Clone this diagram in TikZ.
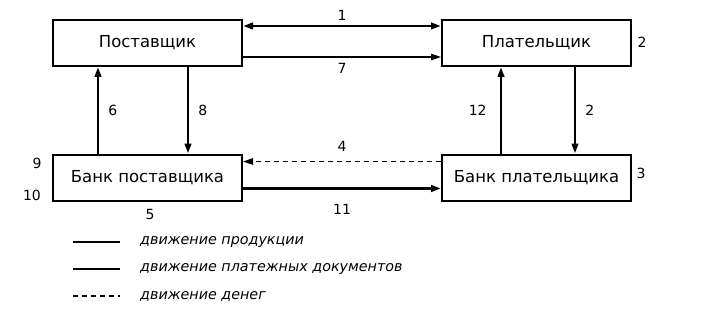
\documentclass[tikz,border=0pt]{standalone}
\usepackage{fontspec}
\setmainfont{DejaVu Sans}
\usepackage{tikz}
\usetikzlibrary{arrows.meta,positioning}
\tikzset{
  every node/.append style={font=\rmfamily},
  unit/.style={draw,line width=2pt,minimum width=189pt,minimum height=46pt,inner sep=0pt,font=\fontsize{16.5}{19}\selectfont},
  num/.style={font=\fontsize{14}{16}\selectfont,inner sep=0pt},
  legtext/.style={font=\fontsize{14.3}{17}\selectfont\itshape,anchor=west,inner sep=0pt},
  goods/.style={line width=1.1pt},
  docs/.style={line width=2.8pt},
  money/.style={line width=1.1pt,dash pattern=on 5pt off 4pt}
}

\begin{document}
\begin{tikzpicture}[x=1pt,y=-1pt,>={Triangle[length=10pt,width=6.5pt]}]
  \useasboundingbox (0,0) rectangle (701,326);
  % participants
  \node[unit] (sup) at (147.5,43) {Поставщик};
  \node[unit] (pay) at (536.5,43) {Плательщик};
  \node[unit] (sbank) at (147.5,177.5) {Банк поставщика};
  \node[unit] (pbank) at (536.5,177.5) {Банк плательщика};
  % flows
  \draw[<->,docs] ([yshift=-7pt]sup.north east) -- ([yshift=-7pt]pay.north west)
    node[num,midway,above=4pt] (l1) {1};
  \draw[->,goods] ([yshift=10pt]sup.south east) -- ([yshift=10pt]pay.south west)
    node[num,midway,below=6pt] (l7) {7};
  \draw[->,docs] ([xshift=46pt]sbank.north west) -- ([xshift=46pt]sup.south west)
    node[num,midway,right=9pt] (l6) {6};
  \draw[->,docs] ([xshift=136pt]sup.south west) -- ([xshift=136pt]sbank.north west)
    node[num,midway,right=9pt] (l8) {8};
  \draw[->,docs] ([xshift=60pt]pbank.north west) -- ([xshift=60pt]pay.south west)
    node[num,midway,left=13pt] (l12) {12};
  \draw[->,docs] ([xshift=134pt]pay.south west) -- ([xshift=134pt]pbank.north west)
    node[num,midway,right=9pt] (l2) {2};
  \draw[->,money] ([yshift=-8pt]pbank.north west) -- ([yshift=-8pt]sbank.north east)
    node[num,midway,above=9pt] (l4) {4};
  \draw[->,docs] ([yshift=13pt]sbank.south east) -- ([yshift=13pt]pbank.south west)
    node[num,midway,below=14pt] (l11) {11};
  % side numbers
  \node[num] (n2) at (642,42) {2};
  \node[num] (n3) at (641,173) {3};
  \node[num] (n9) at (37,163) {9};
  \node[num] (n10) at (32,195) {10};
  \node[num] (n5) at (150,214) {5};
  % legend
  \coordinate (g1) at (73,242); \coordinate (g2) at (120,242);
  \coordinate (d1) at (73,269); \coordinate (d2) at (120,269);
  \coordinate (m1) at (73,296); \coordinate (m2) at (120,296);
  \draw[goods] (g1) -- (g2);
  \draw[docs] (d1) -- (d2);
  \draw[money] (m1) -- (m2);
  \node[legtext] (tg) at (140,242) {движение продукции};
  \node[legtext] (td) at (140,269) {движение платежных документов};
  \node[legtext] (tm) at (140,296) {движение денег};
\end{tikzpicture}
\end{document}
